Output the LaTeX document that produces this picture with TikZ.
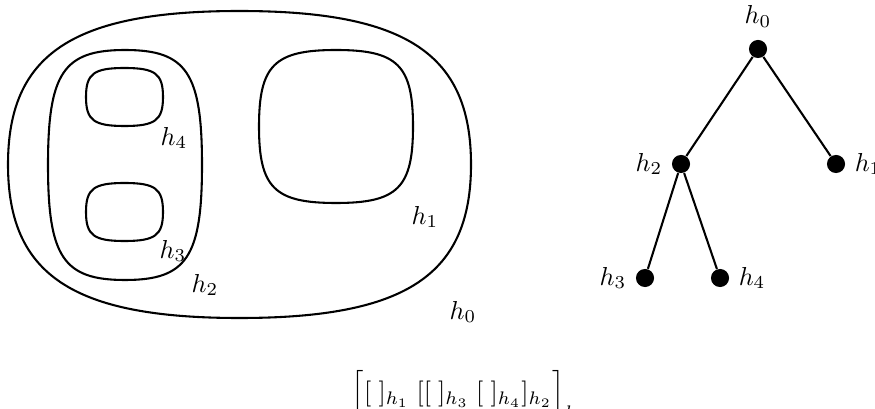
\documentclass[tikz,border=0pt]{standalone}
\usepackage{amsmath,amssymb}
\usepackage{tikz}
\usetikzlibrary{positioning,calc}
\tikzset{
  loopline/.style={draw=black,thick},
  leaf/.style={circle,fill=black,inner sep=0pt,minimum size=2.45mm},
  edge/.style={draw=black,thick}
}
% rounded square (superellipse-like) between (#2,#3) and (#4,#5), roundness #1
\newcommand{\squircle}[5][0.78]{%
  \pgfmathsetmacro\cx{(#2+#4)/2}\pgfmathsetmacro\cy{(#3+#5)/2}%
  \pgfmathsetmacro\ka{#1*(#4-#2)/2}\pgfmathsetmacro\kb{#1*(#5-#3)/2}%
  \draw[loopline] (#4,\cy) .. controls (#4,\cy-\kb) and (\cx+\ka,#3) .. (\cx,#3)
    .. controls (\cx-\ka,#3) and (#2,\cy-\kb) .. (#2,\cy)
    .. controls (#2,\cy+\kb) and (\cx-\ka,#5) .. (\cx,#5)
    .. controls (\cx+\ka,#5) and (#4,\cy+\kb) .. cycle;}
\begin{document}
\begin{tikzpicture}[x=0.01353cm,y=-0.01353cm]
  \useasboundingbox (0,0) rectangle (875,409);

  % nested regions
  \squircle[0.72]{8}{11}{471}{318}
  \squircle[0.8]{48}{50}{202}{280}
  \squircle[0.8]{86}{68}{163}{126}
  \squircle[0.8]{86}{183}{163}{241}
  \squircle[0.8]{259}{50}{413}{203}
  \node (l0) at (463,312) {$h_0$};
  \node (l1) at (425,217) {$h_1$};
  \node (l2) at (205,285) {$h_2$};
  \node (l3) at (173,251) {$h_3$};
  \node (l4) at (174,138) {$h_4$};

  % tree
  \node[leaf,label={[label distance=1pt]above:$h_0$}] (t0) at (758,49) {};
  \node[leaf,label={left:$h_2$}] (t2) at (681,164) {};
  \node[leaf,label={right:$h_1$}] (t1) at (836,164) {};
  \node[leaf,label={left:$h_3$}] (t3) at (645,278) {};
  \node[leaf,label={right:$h_4$}] (t4) at (720,278) {};
  \draw[edge] (t0) -- (t2);
  \draw[edge] (t0) -- (t1);
  \draw[edge] (t2) -- (t3);
  \draw[edge] (t2) -- (t4);

  % bracket word
  \node (word) at (470,396) {$\Big[[\;]_{h_1}\;[[\;]_{h_3}\;[\;]_{h_4}]_{h_2}\Big]_{h_0}$};
\end{tikzpicture}
\end{document}
